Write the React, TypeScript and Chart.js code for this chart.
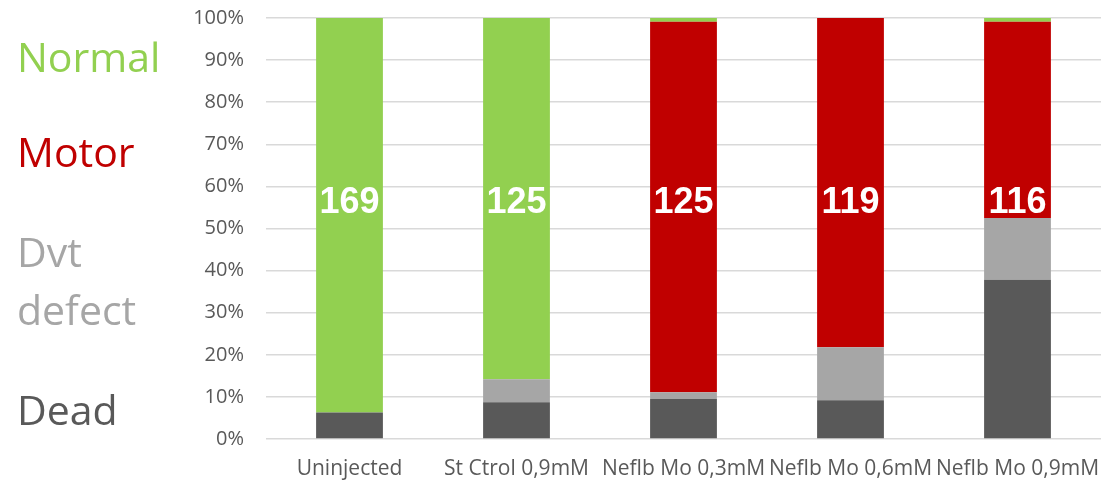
import React, { useEffect, useRef } from "react";
import { Chart, registerables } from "chart.js";

Chart.register(...registerables);

// Groups along the x axis
const categories = [
  "Uninjected",
  "St Ctrol 0,9mM",
  "Neflb Mo 0,3mM",
  "Neflb Mo 0,6mM",
  "Neflb Mo 0,9mM",
];

// Percent of embryos per phenotype (stacked bottom to top: Dead, Dvt defect, Motor, Normal)
const deadValues = [6.3, 8.7, 9.5, 9.2, 37.8];
const dvtValues = [0, 5.5, 1.6, 12.6, 14.7];
const motorValues = [0, 0, 88.0, 78.2, 46.6];
const normalValues = [93.7, 85.8, 0.9, 0, 0.9];

// Number of embryos per group, written on each bar
const counts = [169, 125, 125, 119, 116];
const countLabelLevel = 56;

// Side legend entries: text lines and baseline positions
const legendItems = [
  { lines: ["Normal"], color: "#92D050", baselines: [72] },
  { lines: ["Motor"], color: "#C00000", baselines: [167] },
  { lines: ["Dvt", "defect"], color: "#A6A6A6", baselines: [267, 325] },
  { lines: ["Dead"], color: "#595959", baselines: [425] },
];

const countLabelsPlugin = {
  id: "countLabels",
  afterDatasetsDraw(chart: any) {
    const { ctx, scales } = chart;
    const y = scales.y.getPixelForValue(countLabelLevel);
    ctx.save();
    ctx.font = "bold 36px 'Liberation Sans', Arial, sans-serif";
    ctx.fillStyle = "#FFFFFF";
    ctx.textAlign = "center";
    ctx.textBaseline = "middle";
    counts.forEach((n, i) => {
      const x = scales.x.getPixelForValue(i);
      ctx.fillText(String(n), x, y);
    });
    ctx.restore();
  },
};

const sideLegendPlugin = {
  id: "sideLegend",
  afterDraw(chart: any) {
    const { ctx } = chart;
    ctx.save();
    ctx.font = "41px 'Open Sans', sans-serif";
    ctx.textAlign = "left";
    ctx.textBaseline = "alphabetic";
    legendItems.forEach((item) => {
      ctx.fillStyle = item.color;
      item.lines.forEach((line, j) => {
        ctx.fillText(line, 17, item.baselines[j]);
      });
    });
    ctx.restore();
  },
};

export default function App() {
  const canvasRef = useRef<HTMLCanvasElement | null>(null);

  useEffect(() => {
    if (!canvasRef.current) return;
    const chart = new Chart(canvasRef.current, {
      type: "bar",
      data: {
        labels: categories,
        datasets: [
          { label: "Dead", data: deadValues, backgroundColor: "#595959" },
          { label: "Dvt defect", data: dvtValues, backgroundColor: "#A6A6A6" },
          { label: "Motor", data: motorValues, backgroundColor: "#C00000" },
          { label: "Normal", data: normalValues, backgroundColor: "#92D050" },
        ].map((d) => ({
          ...d,
          borderWidth: 0,
          categoryPercentage: 1,
          barPercentage: 0.4,
        })),
      },
      options: {
        responsive: false,
        animation: false,
        layout: { padding: { top: 18, right: 3, left: 0, bottom: 0 } },
        plugins: {
          legend: { display: false },
          tooltip: { enabled: false },
        },
        scales: {
          x: {
            stacked: true,
            grid: { display: false, drawTicks: false },
            border: { display: false },
            ticks: {
              autoSkip: false,
              maxRotation: 0,
              minRotation: 0,
              padding: 17,
              color: "#595959",
              font: { family: "'Open Sans', sans-serif", size: 21 },
            },
            afterFit(scale: any) {
              scale.height = 43;
              scale.paddingLeft = 0;
              scale.paddingRight = 0;
            },
          },
          y: {
            stacked: true,
            min: 0,
            max: 100,
            grid: { color: "#D9D9D9", lineWidth: 1.5, drawTicks: false },
            border: { display: false },
            ticks: {
              stepSize: 10,
              padding: 22,
              color: "#595959",
              font: { family: "'Open Sans', sans-serif", size: 20 },
              callback: (v: any) => `${v}%`,
            },
            afterFit(scale: any) {
              scale.width = 266;
              scale.paddingTop = 0;
              scale.paddingBottom = 0;
            },
          },
        },
      },
      plugins: [countLabelsPlugin, sideLegendPlugin],
    });
    return () => chart.destroy();
  }, []);

  return (
    <div style={{ position: "absolute", left: 0, top: 0, width: 1104, height: 482, background: "#fff" }}>
      <canvas ref={canvasRef} width={1104} height={482} />
    </div>
  );
}
